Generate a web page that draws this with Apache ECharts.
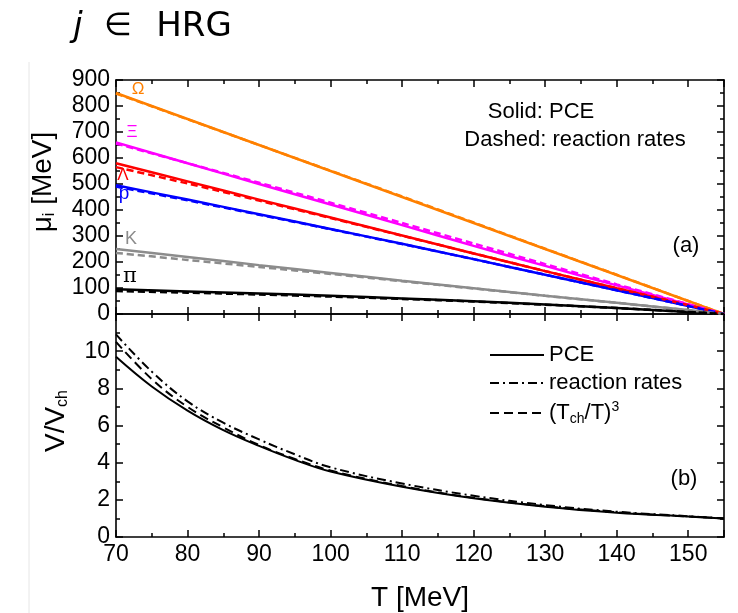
<!DOCTYPE html>
<html>
<head>
<meta charset="utf-8">
<script src="https://cdn.jsdelivr.net/npm/echarts@6/dist/echarts.min.js"></script>
<style>
html,body{margin:0;padding:0;background:#fff;}
#chart{width:738px;height:613px;}
</style>
</head>
<body>
<div id="chart"></div>
<script>
// ---------- data ----------
const T = [70, 80, 90, 100, 110, 120, 130, 140, 150, 155];
const omegaPCE   = [850, 750, 650, 550, 450, 350, 250, 150, 50, 0];
const omegaRates = [848, 749, 650, 551, 452, 352, 251, 151, 50, 0];
const xiPCE      = [660, 580, 500, 421, 342, 262, 185, 110, 37, 0];
const xiRates    = [656, 580, 505, 428, 350, 271, 192, 114, 38, 0];
const lambdaPCE  = [580, 510, 440, 371, 302, 233, 165, 99, 34, 0];
const lambdaRates= [565, 502, 436, 369, 301, 233, 165, 99, 34, 0];
const pPCE       = [495, 440, 384, 327, 270, 211, 151, 91, 31, 0];
const pRates     = [490, 437, 382, 326, 269, 211, 151, 91, 31, 0];
const kPCE       = [250, 219, 188, 158, 128, 99, 70, 43, 15, 0];
const kRates     = [235, 208, 181, 154, 126, 98, 70, 43, 15, 0];
const piPCE      = [95, 87, 79, 70, 60, 49, 37, 23, 8, 0];
const piRates    = [88, 82, 75, 67, 58, 48, 36, 23, 8, 0];

const Tb = [70, 75, 80, 85, 90, 95, 100, 110, 120, 130, 140, 150, 155];
const vPCE     = [9.7, 8.1, 6.8, 5.75, 4.9, 4.15, 3.52, 2.7, 2.08, 1.63, 1.31, 1.1, 1.0];
const vRates   = [10.9, 8.9, 7.3, 6.15, 5.25, 4.45, 3.75, 2.88, 2.22, 1.72, 1.36, 1.12, 1.0];
const vScaling = [10.5, 8.5, 7.0, 5.9, 4.95, 4.2, 3.58, 2.74, 2.11, 1.66, 1.33, 1.1, 1.0];

const xTicks = [70, 80, 90, 100, 110, 120, 130, 140, 150];
const muTicks = [0, 100, 200, 300, 400, 500, 600, 700, 800, 900];
const vTicks = [0, 2, 4, 6, 8, 10];

// ---------- helpers ----------
const FONT = "'Liberation Sans', Arial, Helvetica, sans-serif";
const pair = (xs, ys) => xs.map((x, i) => [x, ys[i]]);
const ORANGE = '#FF8000', MAGENTA = '#FF00FF', RED = '#FF0000', BLUE = '#0000FF', GRAY = '#8C8C8C', BLACK = '#000000';

function xAx(grid, pos, labels) {
  return {
    type: 'value', gridIndex: grid, position: pos, min: 70, max: 155, interval: 10,
    axisLine: {show: true, onZero: false, lineStyle: {color: '#000', width: 1.6}},
    axisTick: {show: true, inside: true, length: 7, lineStyle: {color: '#000', width: 1.5}},
    minorTick: {show: true, splitNumber: 2, length: 4, lineStyle: {color: '#000', width: 1.5}},
    splitLine: {show: false},
    axisLabel: {show: labels, color: '#000', fontSize: 23, fontFamily: FONT, margin: 6,
      formatter: v => xTicks.includes(v) ? String(v) : ''},
    name: labels ? 'T [MeV]' : '', nameLocation: 'middle', nameGap: 47,
    nameTextStyle: {color: '#000', fontSize: 28, fontFamily: FONT}
  };
}
function yAx(grid, pos, min, max, interval, labels, ticks) {
  return {
    type: 'value', gridIndex: grid, position: pos, min: min, max: max, interval: interval,
    axisLine: {show: true, onZero: false, lineStyle: {color: '#000', width: 1.6}},
    axisTick: {show: true, inside: true, length: 7, lineStyle: {color: '#000', width: 1.5}},
    minorTick: {show: true, splitNumber: 2, length: 4, lineStyle: {color: '#000', width: 1.5}},
    splitLine: {show: false},
    axisLabel: {show: labels, color: '#000', fontSize: 23, fontFamily: FONT, margin: 6,
      formatter: v => ticks.includes(v) ? String(v) : ''}
  };
}
function topLine(name, data, color, dashed) {
  return {
    name: name, type: 'line', xAxisIndex: 0, yAxisIndex: 0, data: pair(T, data),
    showSymbol: false, symbol: 'none', smooth: 0.3, z: dashed ? 3 : 2,
    lineStyle: {color: color, width: 2.5, type: dashed ? [7, 4] : 'solid'},
    itemStyle: {color: color}
  };
}
function botLine(name, data, type) {
  return {
    name: name, type: 'line', xAxisIndex: 2, yAxisIndex: 2, data: pair(Tb, data),
    showSymbol: false, symbol: 'none', smooth: 0.4,
    lineStyle: {color: BLACK, width: 2, type: type},
    itemStyle: {color: BLACK}
  };
}
function txt(x, y, text, size, color, extra) {
  return Object.assign({
    type: 'text', x: x, y: y, z: 50,
    style: Object.assign({text: text, fill: color || '#000', fontSize: size, fontFamily: FONT,
      textAlign: 'center', textVerticalAlign: 'middle', align: 'center', verticalAlign: 'middle'},
      (extra && extra.style) || {})
  }, (extra && extra.el) || {});
}

const DASHDOT = [9, 4, 2, 4];
const DASH = [9, 5];

const option = {
  backgroundColor: '#fff',
  animation: false,
  grid: [
    {left: 116, top: 80, width: 608, height: 234},
    {left: 116, top: 314, width: 608, height: 234}
  ],
  xAxis: [xAx(0, 'bottom', false), xAx(0, 'top', false), xAx(1, 'bottom', true), xAx(1, 'top', false)],
  yAxis: [
    yAx(0, 'left', 0, 900, 100, true, muTicks), yAx(0, 'right', 0, 900, 100, false, muTicks),
    yAx(1, 'left', 0, 12, 2, true, vTicks), yAx(1, 'right', 0, 12, 2, false, vTicks)
  ],
  legend: {
    data: ['PCE', 'reaction rates', 'scaling'],
    orient: 'vertical', left: 484, top: 339, itemWidth: 54, itemHeight: 22, itemGap: 6,
    itemStyle: {opacity: 0},
    lineStyle: {width: 2},
    textStyle: {color: '#000', fontSize: 22, fontFamily: FONT,
      rich: {
        n: {fontSize: 22, fontFamily: FONT, color: '#000'},
        sub: {fontSize: 14, fontFamily: FONT, color: '#000', verticalAlign: 'bottom', padding: [12, 0, 0, 0]},
        sup: {fontSize: 14, fontFamily: FONT, color: '#000', verticalAlign: 'top', padding: [0, 0, 10, 0]}
      }},
    formatter: n => n === 'scaling' ? '{n|(T}{sub|ch}{n|/T)}{sup|3}' : n,
    selectedMode: false
  },
  series: [
    topLine('Ω PCE', omegaPCE, ORANGE, false), topLine('Ω rates', omegaRates, ORANGE, true),
    topLine('Ξ PCE', xiPCE, MAGENTA, false), topLine('Ξ rates', xiRates, MAGENTA, true),
    topLine('Λ PCE', lambdaPCE, RED, false), topLine('Λ rates', lambdaRates, RED, true),
    topLine('p PCE', pPCE, BLUE, false), topLine('p rates', pRates, BLUE, true),
    topLine('K PCE', kPCE, GRAY, false), topLine('K rates', kRates, GRAY, true),
    topLine('π PCE', piPCE, BLACK, false), topLine('π rates', piRates, BLACK, true),
    botLine('PCE', vPCE, 'solid'),
    botLine('reaction rates', vRates, DASHDOT),
    botLine('scaling', vScaling, DASH)
  ],
  graphic: [
    {type: 'line', shape: {x1: 29, y1: 62, x2: 29, y2: 613}, style: {stroke: '#e6e6e6', lineWidth: 1}, z: 1},
    // title
    txt(78, 27, 'j', 34, '#000', {style: {fontFamily: 'DejaVu Sans', fontStyle: 'italic'}}),
    txt(118, 27, '∈', 32, '#000', {style: {fontFamily: 'DejaVu Sans'}}),
    txt(194, 27, 'HRG', 34, '#000', {style: {fontFamily: 'DejaVu Sans'}}),
    // species labels
    txt(138, 89, 'Ω', 17, ORANGE),
    txt(132, 132, 'Ξ', 17, MAGENTA),
    txt(123, 175, 'Λ', 17, RED),
    txt(124, 194, 'p', 19, BLUE),
    txt(131, 239, 'K', 18, GRAY),
    txt(130, 277, 'π', 21, BLACK, {style: {fontFamily: 'DejaVu Serif'}}),
    // annotations
    txt(541, 112, 'Solid: PCE', 22),
    txt(575, 140, 'Dashed: reaction rates', 22),
    txt(686, 246, '(a)', 22),
    txt(684, 479, '(b)', 22),
    // y axis titles
    {type: 'text', x: 43, y: 182, rotation: Math.PI / 2, z: 50,
     style: {text: '{a|μ}{b|i}{a| [MeV]}', fill: '#000', textAlign: 'center', textVerticalAlign: 'middle', align: 'center', verticalAlign: 'middle',
       rich: {a: {fontSize: 28, fontFamily: FONT, fill: '#000'}, b: {fontSize: 16, fontFamily: FONT, fill: '#000', verticalAlign: 'bottom', padding: [14, 0, 0, 0]}}}},
    {type: 'text', x: 56, y: 421, rotation: Math.PI / 2, z: 50,
     style: {text: '{a|V/V}{b|ch}', fill: '#000', textAlign: 'center', textVerticalAlign: 'middle', align: 'center', verticalAlign: 'middle',
       rich: {a: {fontSize: 28, fontFamily: FONT, fill: '#000'}, b: {fontSize: 16, fontFamily: FONT, fill: '#000', verticalAlign: 'bottom', padding: [14, 0, 0, 0]}}}}
  ]
};

const chart = echarts.init(document.getElementById('chart'), null, {renderer: 'canvas'});
chart.setOption(option);
</script>
</body>
</html>
